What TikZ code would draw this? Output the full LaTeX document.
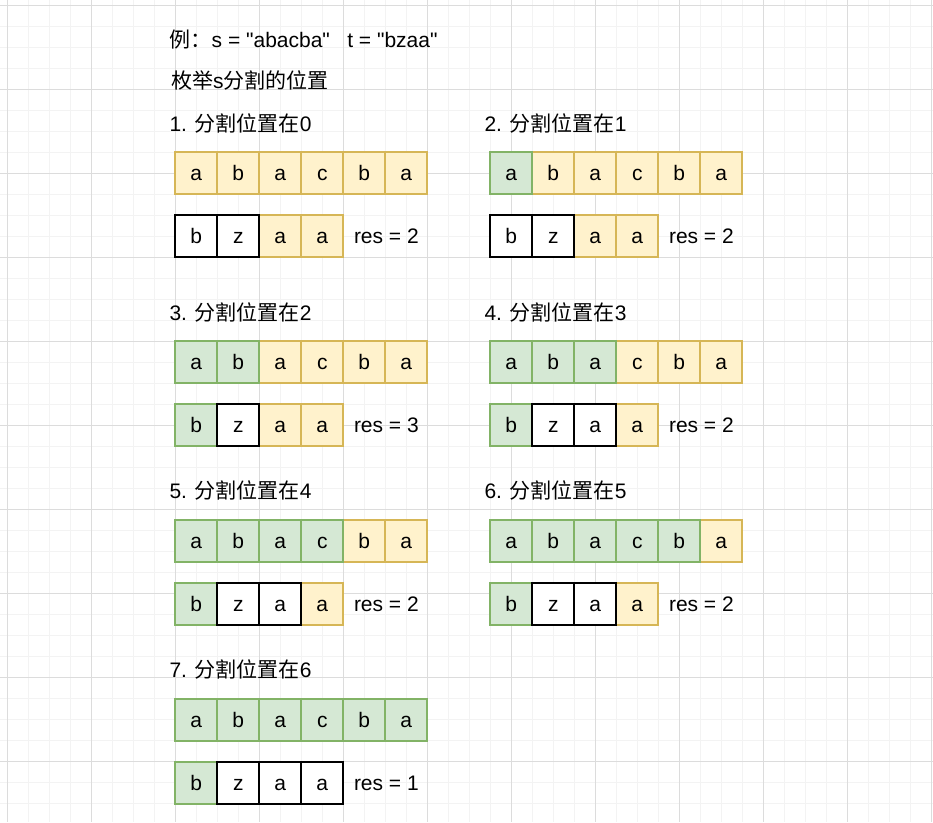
\documentclass[tikz,border=0pt]{standalone}
\usepackage{fontspec}
\setmainfont{Liberation Sans}[Ligatures=TeXOff]
\newfontfamily\cjk{Noto Sans CJK SC}
\definecolor{yfill}{HTML}{FFF2CC}
\definecolor{ydraw}{HTML}{D6B656}
\definecolor{gfill}{HTML}{D5E8D4}
\definecolor{gdraw}{HTML}{82B366}
\definecolor{gridmajor}{HTML}{DCDCDC}
\definecolor{gridminor}{HTML}{F3F3F3}
\newcommand\cellrow[4]{\foreach \j/\c/\st in {#4} {\node[cell,\st] (#1-\j) at ({#2+21+42*\j},{#3+21}) {\c};}}
\newcommand\splitcase[7]{%
  \node[txt] (lab#1) at ({#2-6},{#3-21}) {#1. {\cjk 分割位置在}#4};
  \cellrow{s#1}{#2}{#3}{#5}
  \cellrow{t#1}{#2}{#3+63}{#6}
  \node[txt] (res#1) at ({#2+178.5},{#3+63+28.5}) {res = #7};
}
\begin{document}
\begin{tikzpicture}[x=1pt,y=-1pt,
  txt/.style={font=\fontsize{21pt}{25pt}\selectfont, inner sep=0pt, anchor=base west},
  cell/.style={minimum width=42pt, minimum height=42pt, inner sep=0pt, line width=2pt,
    text height=15pt, text depth=0pt, font=\fontsize{21pt}{25pt}\selectfont},
  yc/.style={fill=yfill,draw=ydraw},
  gc/.style={fill=gfill,draw=gdraw},
  kc/.style={fill=white,draw=black}]
\useasboundingbox (0,0) rectangle (933,822);
\fill[white] (0,0) rectangle (933,822);
% grid
\foreach \k in {0,...,44} \draw[gridminor,line width=1pt] ({7.3+21*\k},0) -- ({7.3+21*\k},822);
\foreach \k in {0,...,38} \draw[gridminor,line width=1pt] (0,{5.3+21*\k}) -- (933,{5.3+21*\k});
\foreach \k in {0,...,11} \draw[gridmajor,line width=1pt] ({7.3+84*\k},0) -- ({7.3+84*\k},822);
\foreach \k in {0,...,9} \draw[gridmajor,line width=1pt] (0,{5.3+84*\k}) -- (933,{5.3+84*\k});
% titles
\node[txt] (title) at (169.5,47) {{\cjk 例：}s = "abacba"\hspace{17.4pt}t = "bzaa"};
\node[txt] (subtitle) at (171,88) {{\cjk 枚举}s{\cjk 分割的位置}};
% cases
\splitcase{1}{175.3}{152.3}{0}
  {0/a/yc,1/b/yc,2/a/yc,3/c/yc,4/b/yc,5/a/yc}
  {2/a/yc,3/a/yc,0/b/kc,1/z/kc}{2}
\splitcase{2}{490.3}{152.3}{1}
  {1/b/yc,2/a/yc,3/c/yc,4/b/yc,5/a/yc,0/a/gc}
  {2/a/yc,3/a/yc,0/b/kc,1/z/kc}{2}
\splitcase{3}{175.3}{341.3}{2}
  {2/a/yc,3/c/yc,4/b/yc,5/a/yc,0/a/gc,1/b/gc}
  {2/a/yc,3/a/yc,0/b/gc,1/z/kc}{3}
\splitcase{4}{490.3}{341.3}{3}
  {3/c/yc,4/b/yc,5/a/yc,0/a/gc,1/b/gc,2/a/gc}
  {3/a/yc,0/b/gc,1/z/kc,2/a/kc}{2}
\splitcase{5}{175.3}{519.8}{4}
  {4/b/yc,5/a/yc,0/a/gc,1/b/gc,2/a/gc,3/c/gc}
  {3/a/yc,0/b/gc,1/z/kc,2/a/kc}{2}
\splitcase{6}{490.3}{519.8}{5}
  {5/a/yc,0/a/gc,1/b/gc,2/a/gc,3/c/gc,4/b/gc}
  {3/a/yc,0/b/gc,1/z/kc,2/a/kc}{2}
\splitcase{7}{175.3}{698.8}{6}
  {0/a/gc,1/b/gc,2/a/gc,3/c/gc,4/b/gc,5/a/gc}
  {0/b/gc,1/z/kc,2/a/kc,3/a/kc}{1}
\end{tikzpicture}
\end{document}
